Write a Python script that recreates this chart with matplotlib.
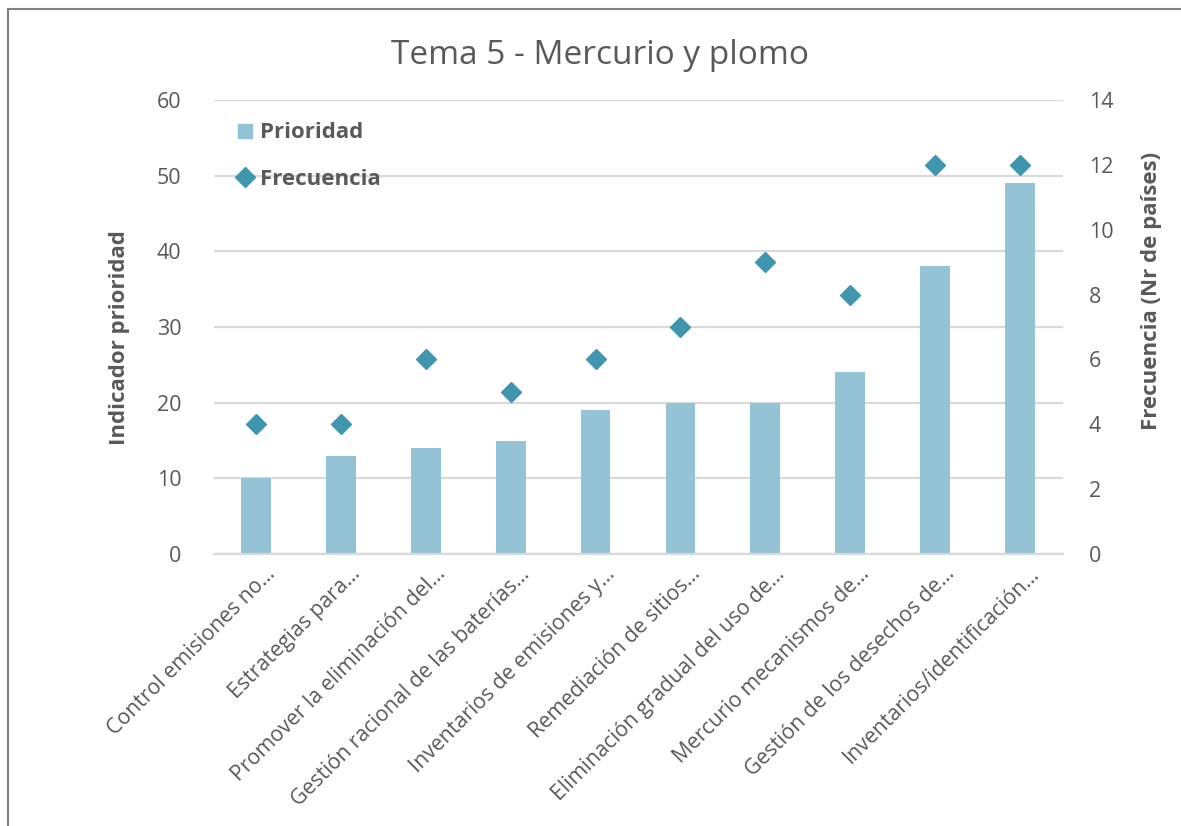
import matplotlib
matplotlib.use("Agg")
import matplotlib.pyplot as plt
from matplotlib.lines import Line2D
import matplotlib.transforms as mtransforms
import numpy as np

categories = [
    "Control emisiones no…",
    "Estrategias para…",
    "Promover la eliminación del…",
    "Gestión racional de las baterías…",
    "Inventarios de emisiones y…",
    "Remediación de sitios…",
    "Eliminación gradual del uso de…",
    "Mercurio mecanismos de…",
    "Gestión de los desechos de…",
    "Inventarios/identificación…",
]
prioridad = [10, 13, 14, 15, 19, 20, 20, 24, 38, 49]
frecuencia = [4, 4, 6, 5, 6, 7, 9, 8, 12, 12]
left_ticks = [0, 10, 20, 30, 40, 50, 60]
right_ticks = [0, 2, 4, 6, 8, 10, 12, 14]

plt.rcParams['font.family'] = ['Open Sans', 'DejaVu Sans']
TXT = '#595959'
BAR = '#93C3D4'
DIA = '#4096AE'
GRID = '#D9D9D9'

fig = plt.figure(figsize=(11.81, 8.26), dpi=100)
W, H = 1181, 826
x0, x1, y0, y1 = 213.5, 1062.5, 100, 554
ax = fig.add_axes([x0 / W, 1 - y1 / H, (x1 - x0) / W, (y1 - y0) / H])
ax2 = ax.twinx()

x = np.arange(len(categories))
ax.bar(x, prioridad, width=0.35, color=BAR, zorder=2, label='Prioridad')
ax2.plot(x, frecuencia, linestyle='none', marker='D', markersize=10.5,
         color=DIA, markeredgecolor=DIA, zorder=3, label='Frecuencia')

ax.set_xlim(-0.5, len(categories) - 0.5)
ax.set_ylim(0, 60)
ax2.set_ylim(0, 14)
ax.set_yticks(left_ticks)
ax2.set_yticks(right_ticks)
ax.yaxis.grid(True, color=GRID, linewidth=1.6)
ax.set_axisbelow(True)
for a in (ax, ax2):
    for s in a.spines.values():
        s.set_visible(False)
ax.spines['bottom'].set_visible(True)
ax.spines['bottom'].set_color(GRID)
ax.spines['bottom'].set_linewidth(1.6)

ax.tick_params(axis='y', length=0, pad=23, labelsize=15.5, labelcolor=TXT)
ax2.tick_params(axis='y', length=0, pad=19, labelsize=15.5, labelcolor=TXT)
ax.tick_params(axis='x', length=0, pad=7, labelsize=15.3, labelcolor=TXT)
ax.set_xticks(x)
ax.set_xticklabels(categories, rotation=45, ha='right', rotation_mode='anchor')
for lbl in ax.get_xticklabels():
    lbl.set_transform(lbl.get_transform() + mtransforms.ScaledTranslation(0.09, 0, fig.dpi_scale_trans))

fig.text(120 / W, 1 - 338 / H, 'Indicador prioridad', rotation=90, ha='center', va='center',
         fontsize=16, fontweight='bold', color=TXT)
fig.text(1151 / W, 1 - 291 / H, 'Frecuencia (Nr de países)', rotation=90, ha='center', va='center',
         fontsize=16, fontweight='bold', color=TXT)

fig.text(600 / W, 1 - 55 / H, 'Tema 5 - Mercurio y plomo', ha='center', va='center',
         fontsize=24, color=TXT)

handles = [Line2D([], [], linestyle='none', marker='s', markersize=10.5, color=BAR),
           Line2D([], [], linestyle='none', marker='D', markersize=10, color=DIA)]
leg = ax.legend(handles, ['Prioridad', 'Frecuencia'], loc='upper left',
                bbox_to_anchor=(0.006, 0.99), frameon=False, handlelength=0.8,
                handletextpad=0.25, labelspacing=1.15, fontsize=16, borderpad=0.3)
for t in leg.get_texts():
    t.set_fontweight('bold')
    t.set_color(TXT)

fig.add_artist(Line2D([7.5 / W, 7.5 / W], [0, 1 - 9 / H], color='#808080', linewidth=1.5))
fig.add_artist(Line2D([7.5 / W, 1], [1 - 9 / H, 1 - 9 / H], color='#808080', linewidth=1.5))

fig.savefig('out.png', dpi=100, facecolor='white')
